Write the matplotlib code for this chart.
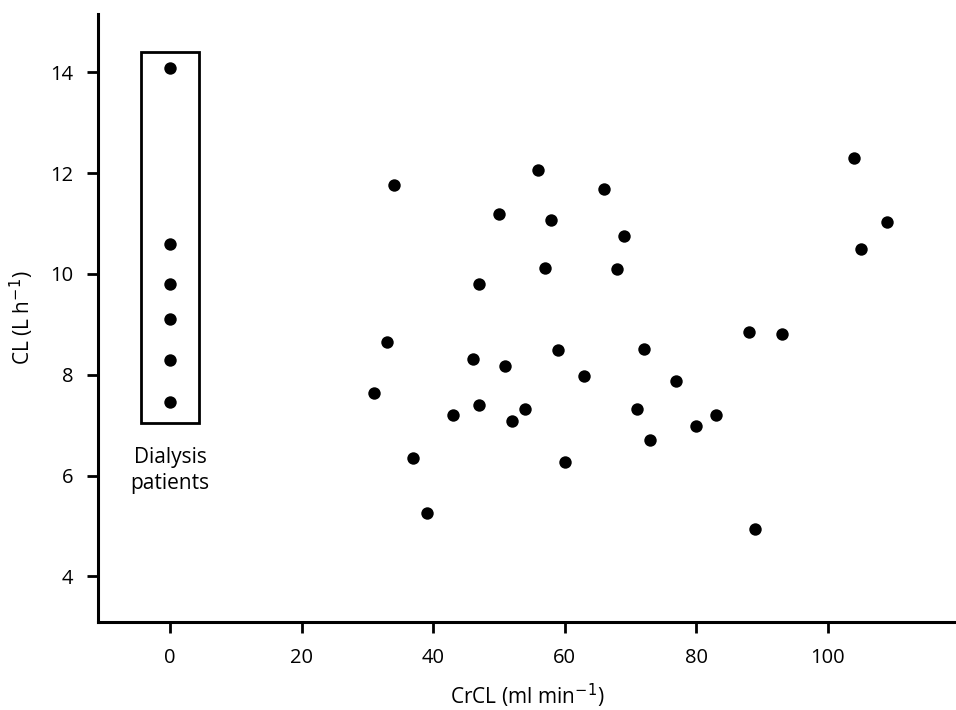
import matplotlib
matplotlib.use("Agg")
import matplotlib.pyplot as plt
from matplotlib.patches import Rectangle

plt.rcParams['font.family'] = ['Open Sans', 'DejaVu Sans']

# Dialysis patients (CrCL plotted at 0)
dial_x = [0, 0, 0, 0, 0, 0]
dial_y = [14.09, 10.6, 9.8, 9.1, 8.3, 7.46]

# Other patients
crcl = [34, 56, 66, 50, 58, 69, 57, 68, 47, 33, 46, 51, 59, 72, 63, 31, 43,
        47, 54, 52, 71, 73, 37, 60, 39, 104, 109, 105, 88, 93, 77, 83, 80, 89]
cl = [11.76, 12.07, 11.69, 11.19, 11.08, 10.75, 10.12, 10.10, 9.81, 8.65,
      8.31, 8.17, 8.50, 8.52, 7.97, 7.64, 7.21, 7.40, 7.32, 7.09, 7.32, 6.70,
      6.35, 6.27, 5.26, 12.30, 11.04, 10.49, 8.85, 8.81, 7.87, 7.21, 6.98, 4.94]

xticks = [0, 20, 40, 60, 80, 100]
yticks = [4, 6, 8, 10, 12, 14]

fig = plt.figure(figsize=(9.56, 7.10), dpi=100)
ax = fig.add_axes([0.1028, 0.1244, 0.8972, 0.8559])

ax.scatter(dial_x, dial_y, s=80, color='black', zorder=3, linewidths=0)
ax.scatter(crcl, cl, s=80, color='black', zorder=3, linewidths=0)

ax.add_patch(Rectangle((-4.4, 7.05), 8.8, 7.36, fill=False, edgecolor='black',
                       linewidth=2.0, zorder=2))
ax.text(0, 6.1, "Dialysis\npatients", ha='center', va='center', fontsize=15,
        linespacing=1.3)

ax.set_xlim(-10.9, 119.5)
ax.set_ylim(3.1, 15.16)
ax.set_xticks(xticks)
ax.set_yticks(yticks)

for s in ['top', 'right']:
    ax.spines[s].set_visible(False)
for s in ['left', 'bottom']:
    ax.spines[s].set_linewidth(2.2)

ax.tick_params(axis='both', direction='out', length=8, width=2.0,
               labelsize=14.5)
ax.tick_params(axis='x', pad=11)
ax.tick_params(axis='y', pad=10)

ax.set_xlabel("CrCL (ml min$^{-1}$)", fontsize=15, labelpad=10)
ax.set_ylabel("CL (L h$^{-1}$)", fontsize=15, labelpad=10)

fig.savefig("out.png", dpi=100)
